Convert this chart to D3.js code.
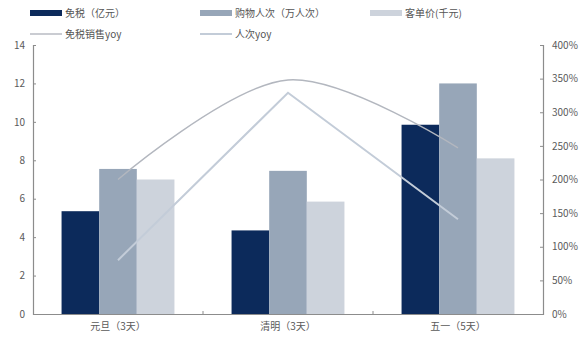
<!DOCTYPE html>
<html>
<head>
<meta charset="utf-8">
<script src="https://cdn.jsdelivr.net/npm/d3@7/dist/d3.min.js"></script>
<style>
  html, body { margin: 0; padding: 0; background: #fff; }
  svg { display: block; font-family: "Noto Sans CJK SC", "Noto Sans", sans-serif; }
</style>
</head>
<body>
<svg id="chart" width="582" height="340"></svg>
<script>
// Holiday periods
const categories = ["元旦（3天）", "清明（3天）", "五一（5天）"];

// Bar series (left axis)
const salesValues = [5.35, 4.35, 9.85];     // 免税（亿元）
const visitorValues = [7.55, 7.45, 12.0];   // 购物人次（万人次）
const unitPriceValues = [7.0, 5.85, 8.1];   // 客单价(千元)

// Line series (right axis, percent)
const salesYoy = [200, 348, 247];           // 免税销售yoy
const visitorYoy = [80, 329, 141];          // 人次yoy

const leftTicks = [0, 2, 4, 6, 8, 10, 12, 14];
const rightTicks = [0, 50, 100, 150, 200, 250, 300, 350, 400];

const barSeries = [
  { name: "免税（亿元）", values: salesValues, color: "#0c2a5b" },
  { name: "购物人次（万人次）", values: visitorValues, color: "#97a6b8" },
  { name: "客单价(千元)", values: unitPriceValues, color: "#cdd3dc" }
];
const lineSeries = [
  { name: "免税销售yoy", values: salesYoy, color: "#b3b7bf", width: 1.4, curve: d3.curveCatmullRom.alpha(0.5) },
  { name: "人次yoy", values: visitorYoy, color: "#c3ccd8", width: 2, curve: d3.curveLinear }
];

const svg = d3.select("#chart");
const margin = { left: 33, right: 39, top: 45, bottom: 26 };
const W = 582, H = 340;
const plotL = margin.left, plotR = W - margin.right;
const plotT = margin.top, plotB = H - margin.bottom;

const x0 = d3.scaleBand().domain(categories).range([plotL, plotR]).paddingInner(0).paddingOuter(0);
const groupPad = x0.bandwidth() * 0.168;
const x1 = d3.scaleBand().domain(barSeries.map(s => s.name))
  .range([groupPad, x0.bandwidth() - groupPad]).padding(0);
const yL = d3.scaleLinear().domain([0, 14]).range([plotB, plotT]);
const yR = d3.scaleLinear().domain([0, 400]).range([plotB, plotT]);

// Bars
const groups = svg.append("g").selectAll("g")
  .data(categories)
  .join("g")
  .attr("transform", d => `translate(${x0(d)},0)`);

barSeries.forEach(s => {
  groups.append("rect")
    .attr("x", x1(s.name))
    .attr("width", x1.bandwidth())
    .attr("y", (d, i) => yL(s.values[i]))
    .attr("height", (d, i) => yL(0) - yL(s.values[i]))
    .attr("fill", s.color);
});

// Axes
const axisColor = "#8c8c8c";
const labelColor = "#5a5a5a";

const leftAxis = svg.append("g")
  .attr("transform", `translate(${plotL},0)`)
  .call(d3.axisLeft(yL).tickValues(leftTicks).tickSize(-3).tickPadding(8).tickFormat(d3.format("d")));
const rightAxis = svg.append("g")
  .attr("transform", `translate(${plotR},0)`)
  .call(d3.axisRight(yR).tickValues(rightTicks).tickSize(-3).tickPadding(9).tickFormat(d => d + "%"));
const bottomAxis = svg.append("g")
  .attr("transform", `translate(0,${plotB})`)
  .call(d3.axisBottom(x0).tickSize(0).tickPadding(9));

[leftAxis, rightAxis, bottomAxis].forEach(a => {
  a.select(".domain").attr("stroke", axisColor).attr("stroke-width", 1.2);
  a.selectAll(".tick line").attr("stroke", axisColor);
  a.selectAll(".tick text").attr("fill", labelColor).attr("font-size", 10)
    .attr("font-family", "'Noto Sans CJK SC', sans-serif");
});

// Small ticks between categories
svg.append("g").selectAll("line")
  .data(categories.slice(1))
  .join("line")
  .attr("x1", d => x0(d)).attr("x2", d => x0(d))
  .attr("y1", plotB).attr("y2", plotB - 3)
  .attr("stroke", axisColor);

// Lines
lineSeries.forEach(s => {
  const line = d3.line()
    .x((d, i) => x0(categories[i]) + x0.bandwidth() / 2)
    .y(d => yR(d))
    .curve(s.curve);
  svg.append("path")
    .datum(s.values)
    .attr("d", line)
    .attr("fill", "none")
    .attr("stroke", s.color)
    .attr("stroke-width", s.width);
});

// Legend
const legend = svg.append("g").attr("font-size", 10).attr("fill", "#555");
const legendItems = [
  { type: "bar", s: barSeries[0], x: 30, y: 13 },
  { type: "bar", s: barSeries[1], x: 200, y: 13 },
  { type: "bar", s: barSeries[2], x: 370, y: 13 },
  { type: "line", s: lineSeries[0], x: 30, y: 34 },
  { type: "line", s: lineSeries[1], x: 200, y: 34 }
];
legendItems.forEach(it => {
  if (it.type === "bar") {
    legend.append("rect").attr("x", it.x).attr("y", it.y - 3).attr("width", 32).attr("height", 6)
      .attr("fill", it.s.color);
  } else {
    legend.append("line").attr("x1", it.x).attr("x2", it.x + 32).attr("y1", it.y).attr("y2", it.y)
      .attr("stroke", it.s.color).attr("stroke-width", it.s.width);
  }
  legend.append("text").attr("x", it.x + 35).attr("y", it.y).attr("dy", "0.35em").text(it.s.name);
});
</script>
</body>
</html>
